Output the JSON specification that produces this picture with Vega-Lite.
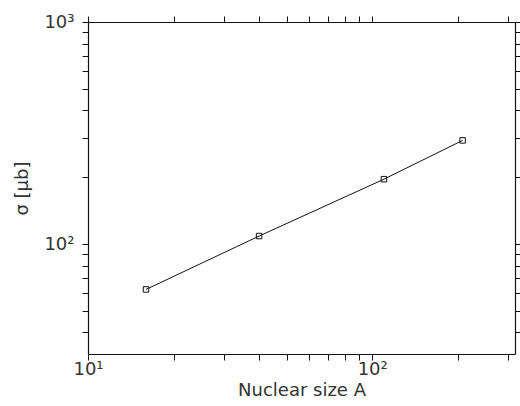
{
  "$schema": "https://vega.github.io/schema/vega-lite/v6.json",
  "width": 427,
  "height": 332,
  "autosize": "none",
  "padding": {"left": 88, "top": 22, "right": 5, "bottom": 52},
  "background": "white",
  "data": {
    "values": [
      {"A": 16, "sigma": 62.5},
      {"A": 40, "sigma": 108.7},
      {"A": 110, "sigma": 196},
      {"A": 208, "sigma": 293}
    ]
  },
  "config": {
    "view": {"stroke": null},
    "axis": {
      "grid": false,
      "domainColor": "#111",
      "domainWidth": 1.2,
      "tickColor": "#111",
      "tickWidth": 1,
      "tickSize": 6,
      "labelFont": "DejaVu Sans",
      "labelFontSize": 18,
      "labelColor": "#333",
      "labelFlush": false,
      "labelOverlap": false,
      "titleFont": "DejaVu Sans",
      "titleFontSize": 18,
      "titleFontWeight": "normal",
      "titleColor": "#333"
    }
  },
  "layer": [
    {
      "mark": {"type": "line", "color": "#111", "strokeWidth": 1},
      "encoding": {
        "x": {
          "field": "A",
          "type": "quantitative",
          "scale": {"type": "log", "domain": [10, 318], "nice": false},
          "axis": {
            "orient": "bottom",
            "title": "Nuclear  size  A",
            "titlePadding": 3,
            "values": [10, 20, 30, 40, 50, 60, 70, 80, 90, 100, 200, 300],
            "labelExpr": "datum.value == 10 ? '10¹' : datum.value == 100 ? '10²' : ''",
            "labelPadding": 0
          }
        },
        "y": {
          "field": "sigma",
          "type": "quantitative",
          "scale": {"type": "log", "domain": [32, 1000], "nice": false},
          "axis": {
            "orient": "left",
            "title": "σ  [μb]",
            "titlePadding": 12,
            "values": [40, 50, 60, 70, 80, 90, 100, 200, 300, 400, 500, 600, 700, 800, 900, 1000],
            "labelExpr": "datum.value == 100 ? '10²' : datum.value == 1000 ? '10³' : ''",
            "labelPadding": 8
          }
        }
      }
    },
    {
      "mark": {"type": "point", "shape": "square", "filled": false, "size": 30, "color": "#111", "strokeWidth": 1, "opacity": 1},
      "encoding": {
        "x": {
          "field": "A",
          "type": "quantitative",
          "axis": {
            "orient": "top",
            "title": null,
            "labels": false,
            "values": [10, 20, 30, 40, 50, 60, 70, 80, 90, 100, 200, 300]
          }
        },
        "y": {
          "field": "sigma",
          "type": "quantitative",
          "axis": {
            "orient": "right",
            "title": null,
            "labels": false,
            "values": [40, 50, 60, 70, 80, 90, 100, 200, 300, 400, 500, 600, 700, 800, 900, 1000]
          }
        }
      }
    }
  ],
  "resolve": {"axis": {"x": "independent", "y": "independent"}}
}
